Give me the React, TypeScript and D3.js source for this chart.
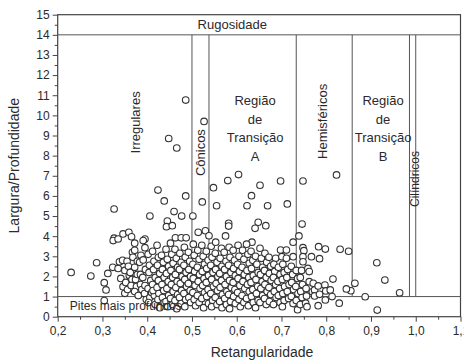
import { useEffect, useRef } from 'react';
import * as d3 from 'd3';

// pits outside the dense cloud
const sparse_pits: [number, number][] = [
    [0.486, 10.76], [0.527, 9.7], [0.448, 8.85], [0.466, 8.38], [0.604, 7.06], [0.823, 7.04],
    [0.58, 6.76], [0.698, 6.74], [0.748, 6.74], [0.424, 6.29], [0.548, 6.41], [0.652, 6.53],
    [0.486, 6.0], [0.633, 6.01], [0.438, 5.75], [0.523, 5.7], [0.713, 5.6], [0.555, 5.51],
    [0.623, 5.51], [0.669, 5.51], [0.326, 5.35], [0.46, 5.22], [0.406, 5.0], [0.477, 5.0],
    [0.502, 5.0], [0.445, 4.75], [0.648, 4.69], [0.582, 4.64], [0.746, 4.6], [0.582, 4.5],
    [0.665, 4.52], [0.443, 4.47], [0.456, 4.52], [0.641, 4.39], [0.53, 4.27], [0.514, 4.19],
    [0.346, 4.11], [0.359, 4.19], [0.575, 4.01], [0.739, 4.01], [0.538, 4.02], [0.365, 3.97],
    [0.463, 3.92], [0.476, 3.92], [0.487, 3.92], [0.326, 3.9], [0.395, 3.86], [0.324, 3.78],
    [0.335, 3.86], [0.391, 3.78], [0.395, 3.43], [0.634, 3.7], [0.726, 3.7], [0.783, 3.48],
    [0.798, 3.36], [0.831, 3.35], [0.85, 3.25], [0.913, 2.68], [0.931, 1.82], [0.964, 1.19],
    [0.887, 0.99], [0.914, 0.33], [0.864, 1.66], [0.855, 1.29], [0.845, 1.38], [0.829, 0.67],
    [0.815, 1.87], [0.23, 2.2], [0.274, 2.02], [0.287, 2.68], [0.312, 2.15], [0.304, 1.69],
    [0.308, 1.33], [0.304, 0.8]
];

// the dense cloud, roughly column by column
const cloud_pits: [number, number][] = [
    [0.323, 2.45], [0.335, 2.4], [0.338, 2.73], [0.341, 1.9], [0.346, 1.49], [0.35, 1.16],
    [0.345, 2.8], [0.35, 2.3], [0.352, 1.7],
    [0.355, 2.75], [0.358, 2.5], [0.356, 1.35], [0.36, 2.05],
    [0.372, 3.65], [0.367, 3.2], [0.368, 2.95], [0.362, 2.2], [0.366, 1.85], [0.364, 1.55],
    [0.372, 3.3], [0.372, 2.45], [0.374, 1.85], [0.378, 2.1], [0.376, 1.5], [0.372, 1.25], [0.378, 2.75],
    [0.383, 2.7], [0.385, 2.1], [0.385, 1.6], [0.38, 1.05], [0.388, 1.35], [0.386, 3.05],
    [0.391, 2.82], [0.396, 2.35], [0.39, 1.95], [0.394, 1.15], [0.398, 0.85], [0.395, 1.55],
    [0.402, 3.1], [0.405, 2.55], [0.404, 2.2], [0.408, 1.8], [0.402, 1.4], [0.406, 0.95], [0.41, 1.2], [0.403, 0.7],
    [0.412, 3.25], [0.415, 2.75], [0.414, 2.35], [0.418, 1.95], [0.412, 1.6], [0.416, 1.05], [0.418, 0.6], [0.413, 1.3],
    [0.422, 3.55], [0.425, 2.95], [0.423, 2.55], [0.428, 2.15], [0.425, 1.8], [0.422, 1.45], [0.426, 1.15], [0.424, 0.85], [0.428, 0.45],
    [0.432, 3.05], [0.436, 2.7], [0.434, 2.35], [0.438, 1.95], [0.433, 1.6], [0.437, 1.3], [0.434, 0.95], [0.438, 0.7],
    [0.442, 3.35], [0.445, 2.85], [0.448, 2.5], [0.443, 2.15], [0.447, 1.75], [0.444, 1.4], [0.448, 1.05], [0.442, 0.75], [0.446, 0.5],
    [0.452, 3.65], [0.455, 3.1], [0.458, 2.65], [0.453, 2.3], [0.457, 1.95], [0.454, 1.6], [0.458, 1.25], [0.452, 0.9], [0.457, 0.6],
    [0.462, 3.35], [0.465, 2.9], [0.468, 2.45], [0.463, 2.1], [0.467, 1.75], [0.464, 1.45], [0.468, 1.1], [0.462, 0.8], [0.466, 0.4],
    [0.473, 3.15], [0.476, 2.7], [0.472, 2.35], [0.478, 2.0], [0.474, 1.65], [0.477, 1.3], [0.472, 0.95], [0.476, 0.65],
    [0.483, 3.45], [0.485, 2.95], [0.482, 2.55], [0.487, 2.2], [0.484, 1.85], [0.488, 1.5], [0.482, 1.15], [0.486, 0.85], [0.484, 0.5],
    [0.492, 3.2], [0.495, 2.75], [0.493, 2.35], [0.497, 2.0], [0.492, 1.65], [0.496, 1.3], [0.493, 0.95], [0.497, 0.7],
    [0.503, 3.6], [0.505, 3.05], [0.502, 2.6], [0.506, 2.25], [0.503, 1.9], [0.507, 1.55], [0.502, 1.2], [0.505, 0.85], [0.508, 0.55],
    [0.513, 3.3], [0.516, 2.85], [0.512, 2.45], [0.517, 2.1], [0.514, 1.75], [0.518, 1.4], [0.512, 1.05], [0.516, 0.7],
    [0.522, 3.55], [0.525, 3.0], [0.528, 2.6], [0.523, 2.25], [0.527, 1.9], [0.524, 1.55], [0.528, 1.2], [0.522, 0.9], [0.526, 0.45],
    [0.532, 3.25], [0.536, 2.8], [0.533, 2.4], [0.537, 2.05], [0.532, 1.7], [0.536, 1.35], [0.533, 1.0], [0.537, 0.65],
    [0.543, 3.5], [0.545, 2.95], [0.542, 2.55], [0.547, 2.2], [0.544, 1.85], [0.548, 1.5], [0.542, 1.15], [0.546, 0.8], [0.544, 0.5],
    [0.553, 3.7], [0.552, 3.15], [0.556, 2.7], [0.553, 2.35], [0.558, 2.0], [0.554, 1.65], [0.557, 1.3], [0.552, 0.95], [0.556, 0.6],
    [0.566, 3.4], [0.563, 2.9], [0.567, 2.5], [0.562, 2.15], [0.566, 1.8], [0.563, 1.45], [0.568, 1.1], [0.562, 0.75], [0.567, 0.45],
    [0.572, 3.2], [0.576, 2.75], [0.573, 2.35], [0.577, 2.0], [0.574, 1.6], [0.578, 1.25], [0.573, 0.9], [0.577, 0.6],
    [0.583, 3.45], [0.585, 2.95], [0.582, 2.55], [0.587, 2.2], [0.584, 1.8], [0.588, 1.45], [0.582, 1.1], [0.586, 0.75], [0.584, 0.4],
    [0.592, 3.3], [0.595, 2.8], [0.593, 2.4], [0.597, 2.05], [0.592, 1.7], [0.596, 1.35], [0.593, 1.0], [0.597, 0.65],
    [0.603, 3.55], [0.605, 3.0], [0.602, 2.6], [0.606, 2.25], [0.603, 1.9], [0.607, 1.55], [0.602, 1.2], [0.605, 0.85], [0.608, 0.5],
    [0.613, 3.3], [0.616, 2.85], [0.612, 2.45], [0.617, 2.1], [0.614, 1.75], [0.618, 1.4], [0.612, 1.05], [0.616, 0.7],
    [0.622, 3.6], [0.625, 3.1], [0.628, 2.65], [0.623, 2.3], [0.627, 1.95], [0.624, 1.6], [0.628, 1.25], [0.622, 0.9], [0.626, 0.55],
    [0.632, 3.25], [0.636, 2.8], [0.633, 2.4], [0.637, 2.05], [0.632, 1.7], [0.636, 1.35], [0.633, 1.0], [0.637, 0.7],
    [0.642, 3.0], [0.645, 2.6], [0.648, 2.2], [0.643, 1.85], [0.647, 1.5], [0.644, 1.15], [0.648, 0.8], [0.642, 0.45],
    [0.652, 3.4], [0.655, 2.9], [0.658, 2.45], [0.653, 2.1], [0.657, 1.75], [0.654, 1.4], [0.658, 1.05], [0.652, 0.7],
    [0.663, 3.15], [0.667, 2.7], [0.662, 2.3], [0.666, 1.95], [0.663, 1.6], [0.668, 1.25], [0.662, 0.9], [0.666, 0.6],
    [0.672, 2.95], [0.676, 2.5], [0.673, 2.15], [0.677, 1.8], [0.672, 1.45], [0.676, 1.1], [0.673, 0.75],
    [0.687, 2.9], [0.683, 2.6], [0.685, 2.25], [0.682, 1.95], [0.687, 1.6], [0.684, 1.25], [0.688, 0.95], [0.682, 0.6],
    [0.698, 3.31], [0.693, 2.45], [0.697, 2.1], [0.692, 1.75], [0.696, 1.4], [0.693, 1.05], [0.697, 0.7],
    [0.701, 2.98], [0.703, 2.6], [0.706, 2.2], [0.702, 1.85], [0.707, 1.5], [0.703, 1.15], [0.706, 0.8], [0.702, 0.5],
    [0.711, 3.31], [0.711, 2.9], [0.714, 2.35], [0.712, 1.95], [0.717, 1.6], [0.713, 1.25], [0.716, 0.9],
    [0.726, 2.98], [0.722, 2.5], [0.725, 2.1], [0.723, 1.7], [0.727, 1.35], [0.722, 1.0], [0.726, 0.65],
    [0.733, 2.3], [0.736, 1.9], [0.732, 1.5], [0.737, 1.15], [0.733, 0.8], [0.736, 0.35],
    [0.748, 3.43], [0.75, 3.28], [0.748, 2.98], [0.748, 2.73], [0.745, 2.3], [0.742, 1.95], [0.747, 1.6], [0.743, 1.25], [0.746, 0.95], [0.742, 0.6],
    [0.759, 2.4], [0.762, 2.24], [0.762, 1.74], [0.756, 1.03], [0.754, 0.67], [0.757, 0.5], [0.755, 1.4],
    [0.767, 2.98], [0.771, 1.66], [0.769, 1.24], [0.774, 1.33], [0.774, 1.03],
    [0.785, 2.88], [0.782, 1.53], [0.785, 1.11], [0.782, 0.55],
    [0.797, 1.57], [0.799, 1.28], [0.798, 0.83], [0.809, 1.33], [0.813, 1.0]
];

const x_ticks = [0.2, 0.3, 0.4, 0.5, 0.6, 0.7, 0.8, 0.9, 1.0, 1.1];
const y_ticks = [0, 1, 2, 3, 4, 5, 6, 7, 8, 9, 10, 11, 12, 13, 14, 15];
const class_bounds = [0.5, 0.538, 0.733, 0.858, 0.986, 1.0];
const rugosity_limit = 14;
const deep_limit = 1;

const FONT = "'Liberation Sans', Arial, sans-serif";
const INK = '#2a2a2a';

function render_chart(node: SVGSVGElement) {
    const svg = d3.select(node);
    svg.selectAll('*').remove();

    const x = d3.scaleLinear().domain([0.2, 1.1]).range([57.7, 460.5]);
    const y = d3.scaleLinear().domain([0, 15]).range([316.7, 14.7]);

    const fmt = (d: number) => d.toFixed(1).replace('.', ',');

    // minor ticks
    svg.append('g')
        .attr('transform', `translate(0,${y(0)})`)
        .call(d3.axisBottom(x).tickValues(d3.range(0.25, 1.1, 0.1)).tickSize(3).tickFormat(() => ''))
        .call(g => g.select('.domain').remove());
    svg.append('g')
        .attr('transform', `translate(${x(0.2)},0)`)
        .call(d3.axisLeft(y).tickValues(d3.range(0.5, 15, 1)).tickSize(3).tickFormat(() => ''))
        .call(g => g.select('.domain').remove());

    // major ticks
    svg.append('g')
        .attr('transform', `translate(0,${y(0)})`)
        .call(d3.axisBottom(x).tickValues(x_ticks).tickSize(5).tickPadding(5).tickFormat(d => fmt(+d)))
        .call(g => g.select('.domain').remove())
        .selectAll('text').style('font-size', '12px');
    svg.append('g')
        .attr('transform', `translate(${x(0.2)},0)`)
        .call(d3.axisLeft(y).tickValues(y_ticks).tickSize(5).tickPadding(3).tickFormat(d => String(d)))
        .call(g => g.select('.domain').remove())
        .selectAll('text').style('font-size', '12px');

    svg.selectAll('.tick line').attr('stroke', '#444');
    svg.selectAll('.tick text').attr('fill', INK).style('font-family', FONT);

    // frame
    svg.append('rect')
        .attr('x', x(0.2)).attr('y', y(15))
        .attr('width', x(1.1) - x(0.2)).attr('height', y(0) - y(15))
        .attr('fill', 'none').attr('stroke', '#444').attr('stroke-width', 1.2);

    // class boundaries
    const guides = svg.append('g').attr('stroke', '#555').attr('stroke-width', 1);
    [rugosity_limit, deep_limit].forEach(v => {
        guides.append('line')
            .attr('x1', x(0.2)).attr('x2', x(1.1))
            .attr('y1', y(v)).attr('y2', y(v));
    });
    class_bounds.forEach(v => {
        guides.append('line')
            .attr('x1', x(v)).attr('x2', x(v))
            .attr('y1', y(rugosity_limit)).attr('y2', y(deep_limit));
    });

    // points
    svg.append('g')
        .selectAll('circle')
        .data(sparse_pits.concat(cloud_pits))
        .enter()
        .append('circle')
        .attr('cx', d => x(d[0]))
        .attr('cy', d => y(d[1]))
        .attr('r', 3.3)
        .attr('fill', 'white')
        .attr('stroke', '#333')
        .attr('stroke-width', 1.1);

    const labels = svg.append('g')
        .style('font-family', FONT)
        .attr('fill', INK)
        .style('font-size', '13px');

    labels.append('text')
        .attr('x', x(0.59)).attr('y', y(14.5)).attr('dy', '0.35em')
        .attr('text-anchor', 'middle').text('Rugosidade');

    const vertical = (px: number, py: number, txt: string, size = 13) => {
        labels.append('text')
            .attr('transform', `translate(${px},${py}) rotate(-90)`)
            .attr('dy', '0.35em')
            .attr('text-anchor', 'middle')
            .style('font-size', size + 'px')
            .text(txt);
    };
    vertical(x(0.373), y(9.65), 'Irregulares');
    vertical(x(0.52), y(8.15), 'Cônicos');
    vertical(x(0.792), y(9.7), 'Hemisféricos');
    vertical(x(0.998), y(6.84), 'Cilíndricos', 12);

    const stacked = (cx: number, words: string[]) => {
        const rows = [10.76, 9.8, 8.9, 7.98];
        words.forEach((w, i) => {
            labels.append('text')
                .attr('x', cx).attr('y', y(rows[i])).attr('dy', '0.35em')
                .attr('text-anchor', 'middle').text(w);
        });
    };
    stacked(x(0.641), ['Região', 'de', 'Transição', 'A']);
    stacked(x(0.927), ['Região', 'de', 'Transição', 'B']);

    labels.append('text')
        .attr('x', x(0.227)).attr('y', y(0.53)).attr('dy', '0.35em')
        .style('font-size', '12px')
        .text('Pites mais profundos');

    // axis titles
    svg.append('text')
        .attr('x', 262).attr('y', 357)
        .attr('text-anchor', 'middle')
        .style('font-family', FONT).style('font-size', '14px').attr('fill', INK)
        .text('Retangularidade');
    svg.append('text')
        .attr('transform', `translate(14,${(y(0) + y(15)) / 2}) rotate(-90)`)
        .attr('dy', '0.35em')
        .attr('text-anchor', 'middle')
        .style('font-family', FONT).style('font-size', '14px').attr('fill', INK)
        .text('Largura/Profundidade');
}

const App = () => {
    const ref = useRef<SVGSVGElement>(null);

    useEffect(() => {
        if (ref.current) render_chart(ref.current);
    }, []);

    return (
        <svg ref={ref} width={464} height={363}
            style={{ position: 'absolute', left: 0, top: 0, background: 'white' }} />
    );
};

export default App;
